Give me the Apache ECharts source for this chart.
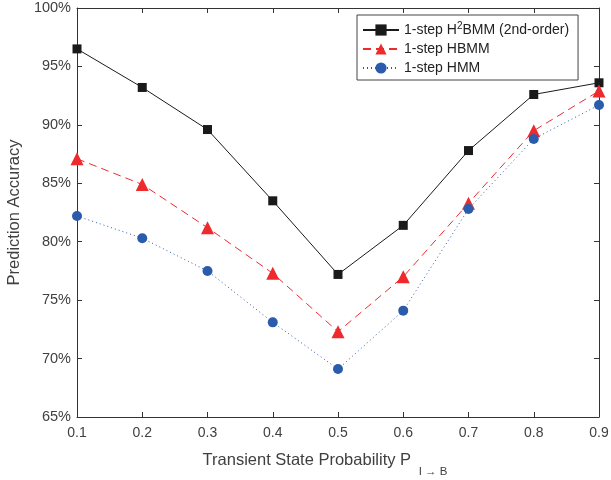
<!DOCTYPE html>
<html>
<head>
<meta charset="utf-8">
<script src="https://cdn.jsdelivr.net/npm/echarts@6/dist/echarts.min.js"></script>
<style>html,body{margin:0;padding:0;background:#fff}#c{width:611px;height:480px}</style>
</head>
<body>
<div id="c"></div>
<script>
const categories = ['0.1','0.2','0.3','0.4','0.5','0.6','0.7','0.8','0.9'];
const h2bmm = [96.5, 93.2, 89.6, 83.5, 77.2, 81.4, 87.8, 92.6, 93.6];
const hbmm  = [87.1, 84.9, 81.2, 77.3, 72.3, 77.0, 83.3, 89.5, 92.9];
const hmm   = [82.2, 80.3, 77.5, 73.1, 69.1, 74.1, 82.8, 88.8, 91.7];
const seriesNames = ['1-step H2BMM (2nd-order)', '1-step HBMM', '1-step HMM'];
const yMin = 65, yMax = 100, yStep = 5;

const font = 'Liberation Sans, Arial, Helvetica, sans-serif';
const axisColor = '#333';
const labelColor = '#404040';

const chart = echarts.init(document.getElementById('c'));
const tickIn = {show: true, inside: true, length: 5, lineStyle: {color: axisColor}};
chart.setOption({
  animation: false,
  grid: {left: 77, right: 12, top: 8, bottom: 63, containLabel: false, outerBoundsMode: 'none'},
  legend: {
    orient: 'vertical', left: 357, top: 15,
    backgroundColor: '#fff', borderColor: '#444', borderWidth: 1,
    padding: [6, 9, 5, 5], itemGap: 5, itemWidth: 36, itemHeight: 14,
    data: seriesNames,
    formatter: function (n) {
      if (n === seriesNames[0]) return '{t|1-step H}{sup|2}{t|BMM (2nd-order)}';
      return '{t|' + n + '}';
    },
    textStyle: {
      fontFamily: font, fontSize: 14, color: '#222',
      rich: {
        t: {fontFamily: font, fontSize: 14, color: '#222'},
        sup: {fontFamily: font, fontSize: 10, color: '#222', verticalAlign: 'top', padding: [0, 0, 8, 0]}
      }
    }
  },
  xAxis: [{
    type: 'category', data: categories, boundaryGap: false,
    axisLine: {lineStyle: {color: axisColor}},
    axisTick: Object.assign({alignWithLabel: true}, tickIn),
    axisLabel: {fontFamily: font, fontSize: 14, color: labelColor, margin: 9},
    splitLine: {show: false},
    name: '{m|Transient State Probability P }{sub|I → B}',
    nameLocation: 'middle', nameGap: 35,
    nameTextStyle: {
      fontFamily: font, fontSize: 16.5, color: labelColor,
      rich: {
        m: {fontFamily: font, fontSize: 16.5, color: labelColor, lineHeight: 20, verticalAlign: 'top'},
        sub: {fontFamily: font, fontSize: 11.5, color: labelColor, lineHeight: 14, verticalAlign: 'top', padding: [14, 26, 0, 3]}
      }
    }
  }, {
    type: 'category', data: categories, boundaryGap: false, position: 'top',
    axisLine: {lineStyle: {color: axisColor}},
    axisTick: tickIn, axisLabel: {show: false}, splitLine: {show: false}
  }],
  yAxis: [{
    type: 'value', min: yMin, max: yMax, interval: yStep,
    axisLine: {show: true, lineStyle: {color: axisColor}},
    axisTick: tickIn,
    axisLabel: {fontFamily: font, fontSize: 14.5, color: labelColor, formatter: '{value}%', margin: 6},
    splitLine: {show: false},
    name: 'Prediction Accuracy', nameLocation: 'middle', nameGap: 49,
    nameTextStyle: {fontFamily: font, fontSize: 16.5, color: labelColor}
  }, {
    type: 'value', min: yMin, max: yMax, interval: yStep, position: 'right',
    axisLine: {show: true, lineStyle: {color: axisColor}},
    axisTick: tickIn, axisLabel: {show: false}, splitLine: {show: false}
  }],
  series: [{
    name: seriesNames[0], type: 'line', data: h2bmm,
    symbol: 'rect', symbolSize: 9,
    itemStyle: {color: '#1a1a1a'},
    lineStyle: {color: '#1a1a1a', width: 1, type: 'solid'}
  }, {
    name: seriesNames[1], type: 'line', data: hbmm,
    symbol: 'triangle', symbolSize: 13,
    itemStyle: {color: '#ee2a2f'},
    lineStyle: {color: '#ee2a2f', width: 1, type: [8, 5]}
  }, {
    name: seriesNames[2], type: 'line', data: hmm,
    symbol: 'circle', symbolSize: 10,
    itemStyle: {color: '#2a5cab'},
    lineStyle: {color: '#2a5cab', width: 1, type: [1, 3]}
  }]
});
</script>
</body>
</html>
